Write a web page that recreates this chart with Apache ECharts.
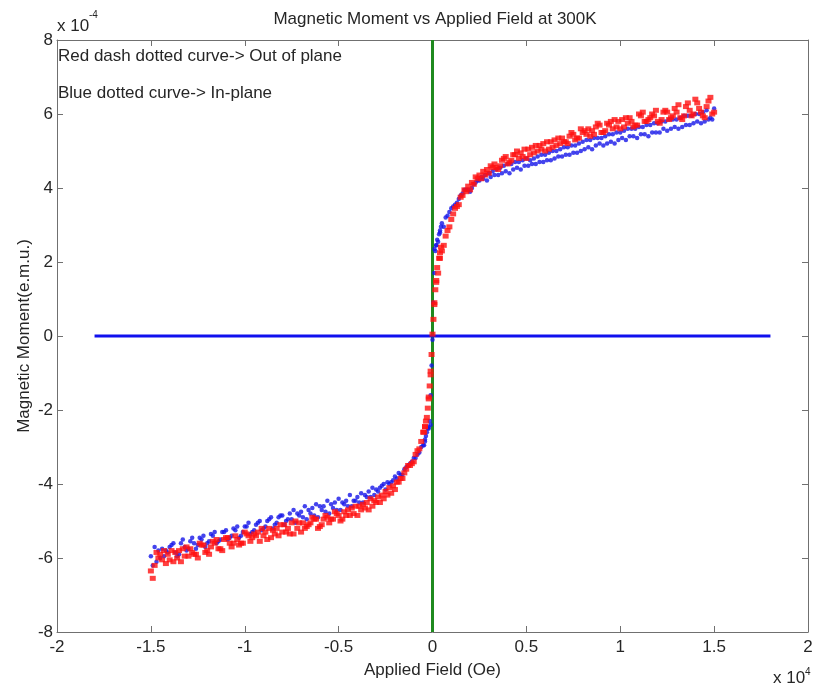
<!DOCTYPE html>
<html><head><meta charset="utf-8">
<script src="https://cdn.jsdelivr.net/npm/echarts@6/dist/echarts.min.js"></script>
<style>html,body{margin:0;padding:0;background:#fff}#c{width:817px;height:685px}</style>
</head><body><div id="c"></div>
<script>
// Applied field in units of 1e4 Oe; moment in units of 1e-4 emu
// sweep 1
const fieldOe = [-1.50,-1.47,-1.44,-1.41,-1.38,-1.35,-1.32,-1.29,-1.26,-1.23,
 -1.20,-1.17,-1.14,-1.11,-1.08,-1.05,-1.02,-0.99,-0.96,-0.93,
 -0.90,-0.87,-0.84,-0.81,-0.78,-0.75,-0.72,-0.69,-0.66,-0.63,
 -0.60,-0.57,-0.54,-0.51,-0.48,-0.45,-0.42,-0.39,-0.36,-0.33,
 -0.30,-0.27,-0.24,-0.21,-0.18,-0.15,-0.12,-0.09,-0.06,-0.03,
 0,0.03,0.06,0.09,0.12,0.15,0.18,0.21,0.24,0.27,
 0.30,0.33,0.36,0.39,0.42,0.45,0.48,0.51,0.54,0.57,
 0.60,0.63,0.66,0.69,0.72,0.75,0.78,0.81,0.84,0.87,
 0.90,0.93,0.96,0.99,1.02,1.05,1.08,1.11,1.14,1.17,
 1.20,1.23,1.26,1.29,1.32,1.35,1.38,1.41,1.44,1.47,1.50];
const outOfPlane = [-6.35,-5.85,-6.05,-5.9,-6.1,-5.8,-5.95,-5.75,-5.9,-5.65,
 -5.8,-5.55,-5.75,-5.5,-5.6,-5.4,-5.6,-5.35,-5.45,-5.3,
 -5.4,-5.2,-5.35,-5.1,-5.3,-5.05,-5.2,-5.05,-5.1,-4.95,
 -5.15,-4.85,-4.95,-4.8,-4.95,-4.7,-4.8,-4.6,-4.65,-4.4,
 -4.5,-4.3,-4.3,-4.05,-3.95,-3.7,-3.5,-3.2,-2.85,-2.2,
 0.05,1.7,2.45,2.95,3.45,3.75,3.9,4.15,4.25,4.45,
 4.4,4.65,4.6,4.85,4.75,5.0,4.85,5.05,4.95,5.15,
 5.0,5.25,5.15,5.35,5.2,5.45,5.35,5.55,5.4,5.65,
 5.5,5.75,5.6,5.8,5.65,5.9,5.7,5.95,5.8,6.0,
 5.8,6.05,5.85,6.15,5.9,6.2,5.95,6.3,5.95,6.35,6.05];
const inPlane = [-5.95,-6.1,-5.75,-5.85,-5.6,-5.9,-5.7,-5.55,-5.75,-5.5,
 -5.6,-5.4,-5.55,-5.3,-5.45,-5.25,-5.4,-5.15,-5.3,-5.05,
 -5.2,-4.95,-5.1,-4.85,-5.0,-4.95,-4.8,-4.9,-4.7,-4.85,
 -4.6,-4.75,-4.55,-4.7,-4.5,-4.6,-4.45,-4.5,-4.3,-4.35,
 -4.15,-4.05,-3.95,-3.9,-3.7,-3.6,-3.45,-3.3,-3.0,-2.6,
 -0.1,2.55,2.95,3.35,3.55,3.8,3.95,4.0,4.2,4.25,
 4.4,4.35,4.55,4.45,4.65,4.55,4.75,4.6,4.8,4.7,
 4.9,4.75,5.0,4.85,5.1,4.95,5.2,5.05,5.3,5.15,
 5.35,5.2,5.45,5.3,5.55,5.4,5.6,5.45,5.7,5.5,
 5.75,5.6,5.85,5.65,5.9,5.7,5.95,5.8,6.05,5.85,6.15];
// sweep 2
const fieldOe2 = [-1.48,-1.45,-1.42,-1.39,-1.36,-1.33,-1.30,-1.27,-1.24,-1.21,
 -1.18,-1.15,-1.12,-1.09,-1.06,-1.03,-1.00,-0.97,-0.94,-0.91,
 -0.88,-0.85,-0.82,-0.79,-0.76,-0.73,-0.70,-0.67,-0.64,-0.61,
 -0.58,-0.55,-0.52,-0.49,-0.46,-0.43,-0.40,-0.37,-0.34,-0.31,
 -0.28,-0.25,-0.22,-0.19,-0.16,-0.13,-0.10,-0.07,-0.04,-0.01,
 0.02,0.05,0.08,0.11,0.14,0.17,0.20,0.23,0.26,0.29,
 0.32,0.35,0.38,0.41,0.44,0.47,0.50,0.53,0.56,0.59,
 0.62,0.65,0.68,0.71,0.74,0.77,0.80,0.83,0.86,0.89,
 0.92,0.95,0.98,1.01,1.04,1.07,1.10,1.13,1.16,1.19,
 1.22,1.25,1.28,1.31,1.34,1.37,1.40,1.43,1.46,1.49];
const outOfPlane2 = [-6.2,-5.9,-6.15,-5.8,-6.0,-5.75,-5.95,-5.9,-5.6,-5.85,
 -5.7,-5.5,-5.8,-5.45,-5.6,-5.65,-5.3,-5.55,-5.4,-5.2,
 -5.5,-5.25,-5.4,-5.1,-5.35,-5.0,-5.3,-5.15,-4.9,-5.2,
 -4.95,-5.05,-4.75,-5.0,-4.85,-4.65,-4.85,-4.55,-4.7,-4.45,
 -4.5,-4.2,-4.25,-3.95,-3.85,-3.5,-3.4,-3.05,-2.45,-1.05,
 1.45,2.3,2.85,3.3,3.55,3.95,3.95,4.3,4.25,4.5,
 4.55,4.5,4.8,4.7,4.9,4.95,4.8,5.1,5.0,5.2,
 5.05,5.3,5.2,5.25,5.5,5.35,5.5,5.6,5.45,5.7,
 5.55,5.8,5.65,5.85,5.75,5.65,6.0,5.8,5.9,6.1,
 5.85,6.05,5.95,6.25,5.95,6.1,6.4,6.05,6.2,6.0];
const inPlane2 = [-5.7,-6.0,-5.8,-5.65,-5.95,-5.5,-5.75,-5.6,-5.45,-5.7,
 -5.35,-5.6,-5.3,-5.5,-5.2,-5.45,-5.15,-5.35,-5.1,-5.25,
 -5.0,-5.2,-4.9,-5.1,-4.8,-5.05,-4.75,-4.95,-4.65,-4.9,
 -4.6,-4.8,-4.5,-4.7,-4.45,-4.6,-4.35,-4.5,-4.2,-4.3,
 -4.1,-4.15,-3.95,-3.85,-3.75,-3.5,-3.3,-3.15,-2.85,-2.4,
 2.45,3.05,3.25,3.5,3.7,3.95,3.9,4.15,4.3,4.2,
 4.45,4.35,4.6,4.4,4.7,4.5,4.8,4.65,4.85,4.7,
 4.95,4.8,5.05,4.9,5.15,4.95,5.25,5.1,5.35,5.2,
 5.4,5.25,5.5,5.35,5.6,5.4,5.65,5.45,5.7,5.5,
 5.8,5.55,5.85,5.6,5.95,5.7,6.0,5.75,6.1,5.85];
// sweep 3
const fieldOe3 = [-1.49,-1.46,-1.43,-1.40,-1.37,-1.34,-1.31,-1.28,-1.25,-1.22,
 -1.19,-1.16,-1.13,-1.10,-1.07,-1.04,-1.01,-0.98,-0.95,-0.92,
 -0.89,-0.86,-0.83,-0.80,-0.77,-0.74,-0.71,-0.68,-0.65,-0.62,
 -0.59,-0.56,-0.53,-0.50,-0.47,-0.44,-0.41,-0.38,-0.35,-0.32,
 -0.29,-0.26,-0.23,-0.20,-0.17,-0.14,-0.11,-0.08,-0.05,-0.02,
 0.01,0.04,0.07,0.10,0.13,0.16,0.19,0.22,0.25,0.28,
 0.31,0.34,0.37,0.40,0.43,0.46,0.49,0.52,0.55,0.58,
 0.61,0.64,0.67,0.70,0.73,0.76,0.79,0.82,0.85,0.88,
 0.91,0.94,0.97,1.00,1.03,1.06,1.09,1.12,1.15,1.18,
 1.21,1.24,1.27,1.30,1.33,1.36,1.39,1.42,1.45,1.48];
const outOfPlane3 = [-6.55,-6.0,-5.8,-6.05,-5.85,-6.1,-5.7,-5.85,-6.0,-5.65,
 -5.9,-5.6,-5.75,-5.45,-5.7,-5.5,-5.6,-5.4,-5.35,-5.55,
 -5.3,-5.45,-5.2,-5.3,-5.2,-5.35,-5.05,-5.2,-5.05,-4.95,
 -5.1,-4.9,-4.95,-4.85,-4.75,-4.85,-4.6,-4.7,-4.5,-4.6,
 -4.35,-4.4,-4.1,-4.15,-3.85,-3.6,-3.45,-3.1,-2.6,-1.65,
 0.85,2.1,2.7,3.15,3.5,3.8,4.05,4.1,4.35,4.35,
 4.6,4.55,4.75,4.65,4.9,4.8,5.05,4.9,5.15,5.05,
 5.25,5.1,5.35,5.25,5.4,5.3,5.6,5.45,5.55,5.75,
 5.5,5.7,5.85,5.6,5.9,5.8,5.7,6.05,5.85,5.95,
 5.75,6.1,5.9,6.05,5.85,6.3,6.0,6.15,5.9,6.45];
const inPlane3 = [-6.2,-5.8,-5.95,-5.7,-5.85,-5.6,-5.8,-5.45,-5.65,-5.4,
 -5.55,-5.3,-5.5,-5.25,-5.4,-5.15,-5.3,-5.05,-5.25,-5.0,
 -5.15,-4.9,-5.05,-4.85,-4.95,-4.7,-4.85,-4.6,-4.8,-4.55,
 -4.7,-4.45,-4.65,-4.4,-4.55,-4.3,-4.45,-4.25,-4.35,-4.1,
 -4.2,-4.0,-4.0,-3.8,-3.75,-3.55,-3.4,-3.2,-2.95,-2.5,
 2.35,2.8,3.2,3.45,3.6,3.85,3.95,4.1,4.2,4.35,
 4.3,4.5,4.4,4.65,4.5,4.7,4.6,4.75,4.65,4.9,
 4.75,5.0,4.85,5.1,4.9,5.15,5.0,5.3,5.05,5.35,
 5.15,5.45,5.2,5.5,5.3,5.6,5.35,5.65,5.4,5.75,
 5.5,5.8,5.6,5.85,5.65,5.95,5.75,6.0,5.8,5.9];
// points in the steep region near zero field
const nearField = [-0.045,-0.04,-0.035,-0.025,-0.02,-0.015,-0.01,-0.005,0.005,0.01,0.015,0.02,0.025,0.035,0.04,0.045];
const nearOutOfPlane = [-2.6,-2.45,-2.3,-1.95,-1.7,-1.35,-0.95,-0.5,0.45,0.9,1.25,1.5,1.85,2.1,2.25,2.4];
const nearInPlane = [-2.95,-2.8,-2.7,-2.5,-2.45,-2.3,-1.6,-0.8,0.9,1.7,2.3,2.45,2.6,2.75,2.85,2.95];
// reference lines
const hLineX = [-1.8, 1.8];
const vLineY = [-8, 8];
const xTicks = [-2,-1.5,-1,-0.5,0,0.5,1,1.5,2];
const yTicks = [-8,-6,-4,-2,0,2,4,6,8];

function pairs(xs, ys){ return xs.map((x,i)=>[x, ys[i]]); }
const redData = pairs(fieldOe, outOfPlane).concat(pairs(fieldOe2, outOfPlane2), pairs(fieldOe3, outOfPlane3), pairs(nearField, nearOutOfPlane));
const blueData = pairs(fieldOe, inPlane).concat(pairs(fieldOe2, inPlane2), pairs(fieldOe3, inPlane3), pairs(nearField, nearInPlane));

const font = 'Liberation Sans, Arial, sans-serif';
const fs = 17;
const txt = '#262626';
const axisColor = '#707070';
const chart = echarts.init(document.getElementById('c'), null, {renderer:'canvas'});
const baseX = {type:'value', min:xTicks[0], max:xTicks[xTicks.length-1], interval:0.5,
  axisLine:{show:true, onZero:false, lineStyle:{color:axisColor, width:1}},
  axisTick:{show:true, inside:true, length:6, lineStyle:{color:axisColor}},
  splitLine:{show:false}};
const baseY = {type:'value', min:yTicks[0], max:yTicks[yTicks.length-1], interval:2,
  axisLine:{show:true, onZero:false, lineStyle:{color:axisColor, width:1}},
  axisTick:{show:true, inside:true, length:6, lineStyle:{color:axisColor}},
  splitLine:{show:false}};
chart.setOption({
  animation:false,
  backgroundColor:'#fff',
  grid:{left:57, right:9, top:40, bottom:53},
  xAxis:[
    Object.assign({}, baseX, {position:'bottom', name:'Applied Field (Oe)', nameLocation:'middle', nameGap:30, nameMoveOverlap:false,
      nameTextStyle:{fontFamily:font, fontSize:fs, color:txt},
      axisLabel:{fontFamily:font, fontSize:fs, color:txt, margin:7}}),
    Object.assign({}, baseX, {position:'top', axisLabel:{show:false}})
  ],
  yAxis:[
    Object.assign({}, baseY, {position:'left', name:'Magnetic Moment(e.m.u.)', nameLocation:'middle', nameGap:24, nameMoveOverlap:false,
      nameTextStyle:{fontFamily:font, fontSize:fs, color:txt},
      axisLabel:{fontFamily:font, fontSize:fs, color:txt, margin:4}}),
    Object.assign({}, baseY, {position:'right', axisLabel:{show:false}})
  ],
  graphic:[
    {type:'text', x:435, y:11, style:{text:'Magnetic Moment vs Applied Field at 300K', font:fs+'px '+font, fill:txt, textAlign:'center'}},
    {type:'text', x:58, y:48, style:{text:'Red dash dotted curve-> Out of plane', font:fs+'px '+font, fill:txt}},
    {type:'text', x:58, y:85, style:{text:'Blue dotted curve-> In-plane', font:fs+'px '+font, fill:txt}},
    {type:'text', x:57, y:18, style:{text:'x 10', font:fs+'px '+font, fill:txt}},
    {type:'text', x:89, y:10, style:{text:'-4', font:'10px '+font, fill:txt}},
    {type:'text', x:773, y:670, style:{text:'x 10', font:fs+'px '+font, fill:txt}},
    {type:'text', x:805, y:667, style:{text:'4', font:'10px '+font, fill:txt}}
  ],
  series:[
    {type:'line', data:pairs([0,0], vLineY), symbol:'none', lineStyle:{color:'#1f8a1f', width:3}, silent:true, z:1},
    {type:'line', data:pairs(hLineX, [0,0]), symbol:'none', lineStyle:{color:'#1010ee', width:3}, silent:true, z:2},
    {type:'scatter', data:blueData, symbol:'circle', symbolSize:4.5, itemStyle:{color:'#1515e8'}, z:3},
    {type:'scatter', data:redData, symbol:'rect', symbolSize:[6,5], itemStyle:{color:'#ff1010'}, z:4}
  ]
});
</script></body></html>
